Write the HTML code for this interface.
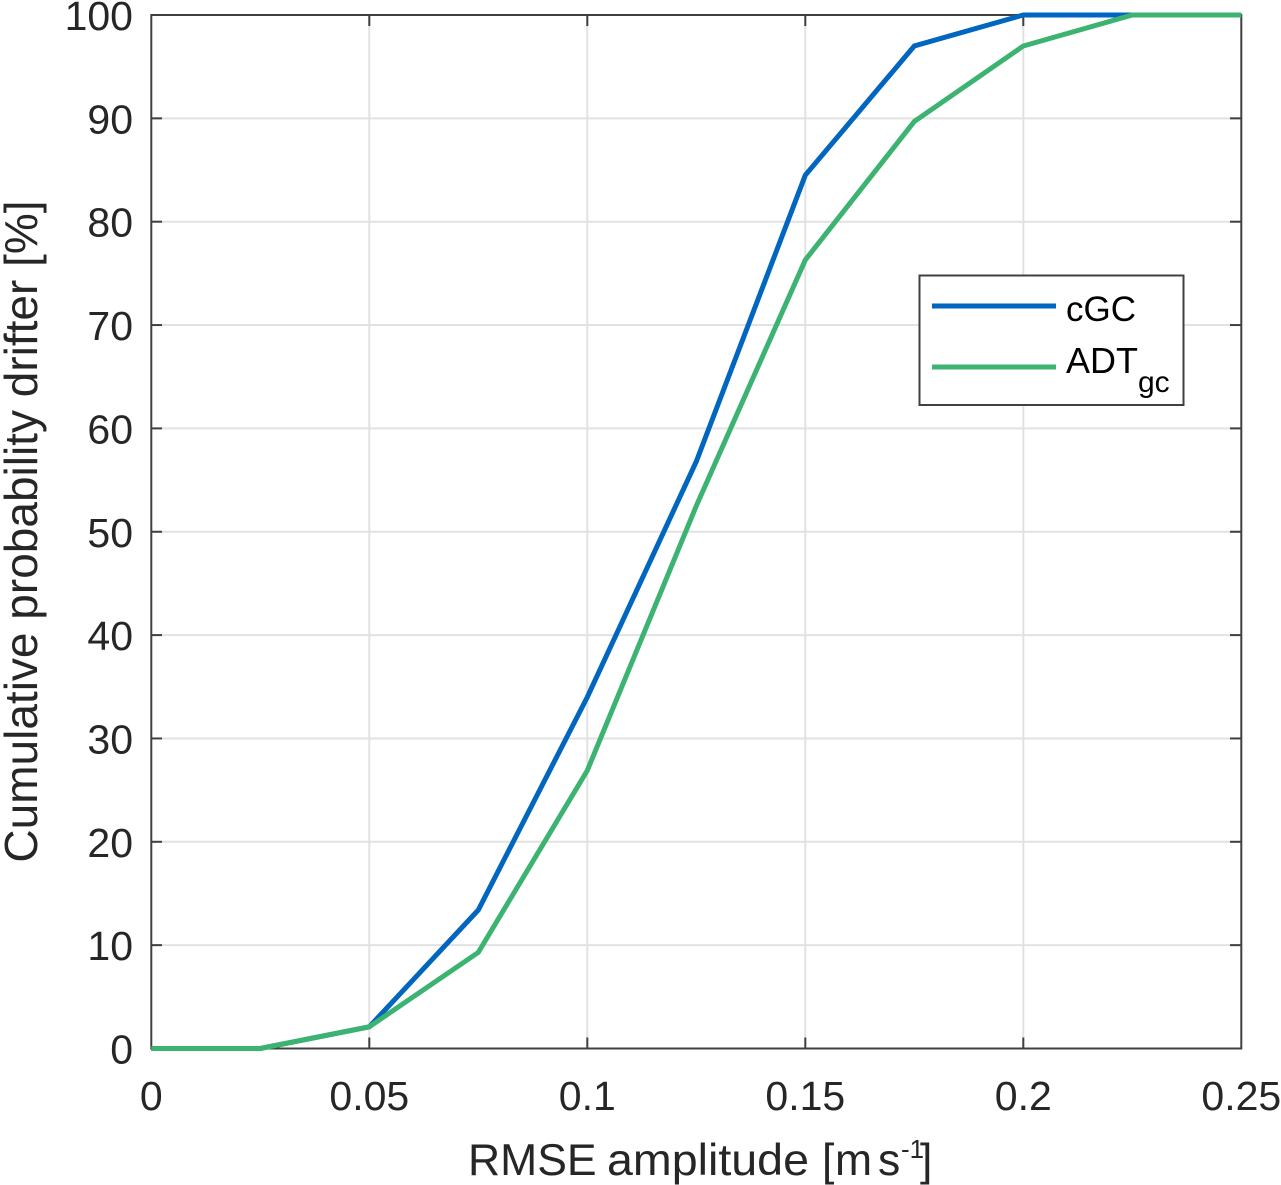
<!DOCTYPE html>
<html>
<head>
<meta charset="utf-8">
<style>
html,body{margin:0;padding:0;background:#fff;width:1281px;height:1185px;overflow:hidden}
svg{display:block}
text{font-family:"Liberation Sans",sans-serif;fill:#262626}
</style>
</head>
<body>
<svg id="chart" width="1281" height="1185" viewBox="0 0 1281 1185" xmlns="http://www.w3.org/2000/svg">
  <rect x="151.3" y="15" width="1090" height="1033.5" fill="#fff"/>
  <g id="grid-group"></g>
  <rect x="151.3" y="15" width="1090" height="1033.5" fill="none" stroke="#404040" stroke-width="2"/>
  <g id="tick-group"></g>
  <g id="series-group"></g>
  <g id="xlabel-group"></g>
  <g id="ylabel-group"></g>
  <text y="1175" font-size="44.5"><tspan x="468">RMSE</tspan><tspan x="607" textLength="202" lengthAdjust="spacingAndGlyphs">amplitude</tspan><tspan x="822">[</tspan><tspan x="835">m</tspan><tspan x="878">s</tspan><tspan x="901" font-size="26" dy="-17">-1</tspan><tspan x="920" dy="17">]</tspan></text>
  <text transform="translate(37,531.5) rotate(-90)" font-size="46" text-anchor="middle">Cumulative probability drifter [%]</text>
  <g>
    <rect x="919.5" y="275.5" width="264" height="129.5" fill="#fff" stroke="#404040" stroke-width="2"/>
    <line x1="932" y1="306" x2="1056" y2="306" stroke="#0066c0" stroke-width="5"/>
    <text x="1066" y="321" font-size="35" style="fill:#000">cGC</text>
    <line x1="932" y1="367" x2="1056" y2="367" stroke="#3cb371" stroke-width="5"/>
    <text x="1066" y="373" font-size="36" style="fill:#000">ADT<tspan font-size="30" dy="19">gc</tspan></text>
  </g>
</svg>
<script>
const xValues = [0, 0.025, 0.05, 0.075, 0.1, 0.125, 0.15, 0.175, 0.2, 0.225, 0.25];
const cgcValues = [0, 0, 2.1, 13.4, 34, 56.8, 84.5, 97, 100, 100, 100];
const adtValues = [0, 0, 2.1, 9.3, 26.9, 52.5, 76.3, 89.7, 97, 100, 100];
const xTicks = [0, 0.05, 0.1, 0.15, 0.2, 0.25];
const yTicks = [0, 10, 20, 30, 40, 50, 60, 70, 80, 90, 100];

const NS = 'http://www.w3.org/2000/svg';
const sx = v => 151.3 + (v / 0.25) * 1090;
const sy = v => 1048.5 - (v / 100) * 1033.5;

function mk(parent, tag, attrs) {
  const el = document.createElementNS(NS, tag);
  for (const k in attrs) el.setAttribute(k, attrs[k]);
  parent.appendChild(el);
  return el;
}

const gridGroup = document.getElementById('grid-group');
const tickGroup = document.getElementById('tick-group');
const xlabelGroup = document.getElementById('xlabel-group');
const ylabelGroup = document.getElementById('ylabel-group');
const seriesGroup = document.getElementById('series-group');

xTicks.forEach(t => {
  const x = sx(t);
  if (t > 0 && t < 0.25) {
    const g = mk(gridGroup, 'line', {x1: x, x2: x, y1: 15, y2: 1048.5, stroke: '#e2e2e2', 'stroke-width': 2});
    
    
    const a = mk(tickGroup, 'line', {x1: x, x2: x, y1: 1048.5, y2: 1037.5, stroke: '#404040', 'stroke-width': 2});
    
    
    const b = mk(tickGroup, 'line', {x1: x, x2: x, y1: 15, y2: 26, stroke: '#404040', 'stroke-width': 2});
    
    
  }
  const l = mk(xlabelGroup, 'text', {x: x, y: 1110, 'font-size': 41, 'text-anchor': 'middle'});
  
  
  l.textContent = String(t);
});

yTicks.forEach(t => {
  const y = sy(t);
  if (t > 0 && t < 100) {
    const g = mk(gridGroup, 'line', {x1: 151, x2: 1241, y1: y, y2: y, stroke: '#e2e2e2', 'stroke-width': 2});
    
    
    const a = mk(tickGroup, 'line', {x1: 151, x2: 162, y1: y, y2: y, stroke: '#404040', 'stroke-width': 2});
    
    
    const b = mk(tickGroup, 'line', {x1: 1241, x2: 1230, y1: y, y2: y, stroke: '#404040', 'stroke-width': 2});
    
    
  }
  const l = mk(ylabelGroup, 'text', {x: 133, y: y + 15, 'font-size': 41, 'text-anchor': 'end'});
  
  
  l.textContent = String(t);
});

function drawLine(vals, color, name) {
  const pts = xValues.map((x, i) => sx(x) + ',' + sy(vals[i])).join(' ');
  const p = mk(seriesGroup, 'polyline', {points: pts, fill: 'none', stroke: color, 'stroke-width': 5, 'stroke-linejoin': 'miter'});
  
  
}
drawLine(cgcValues, '#0066c0', 'series-cgc');
drawLine(adtValues, '#3cb371', 'series-adt-gc');
</script>
</body>
</html>
